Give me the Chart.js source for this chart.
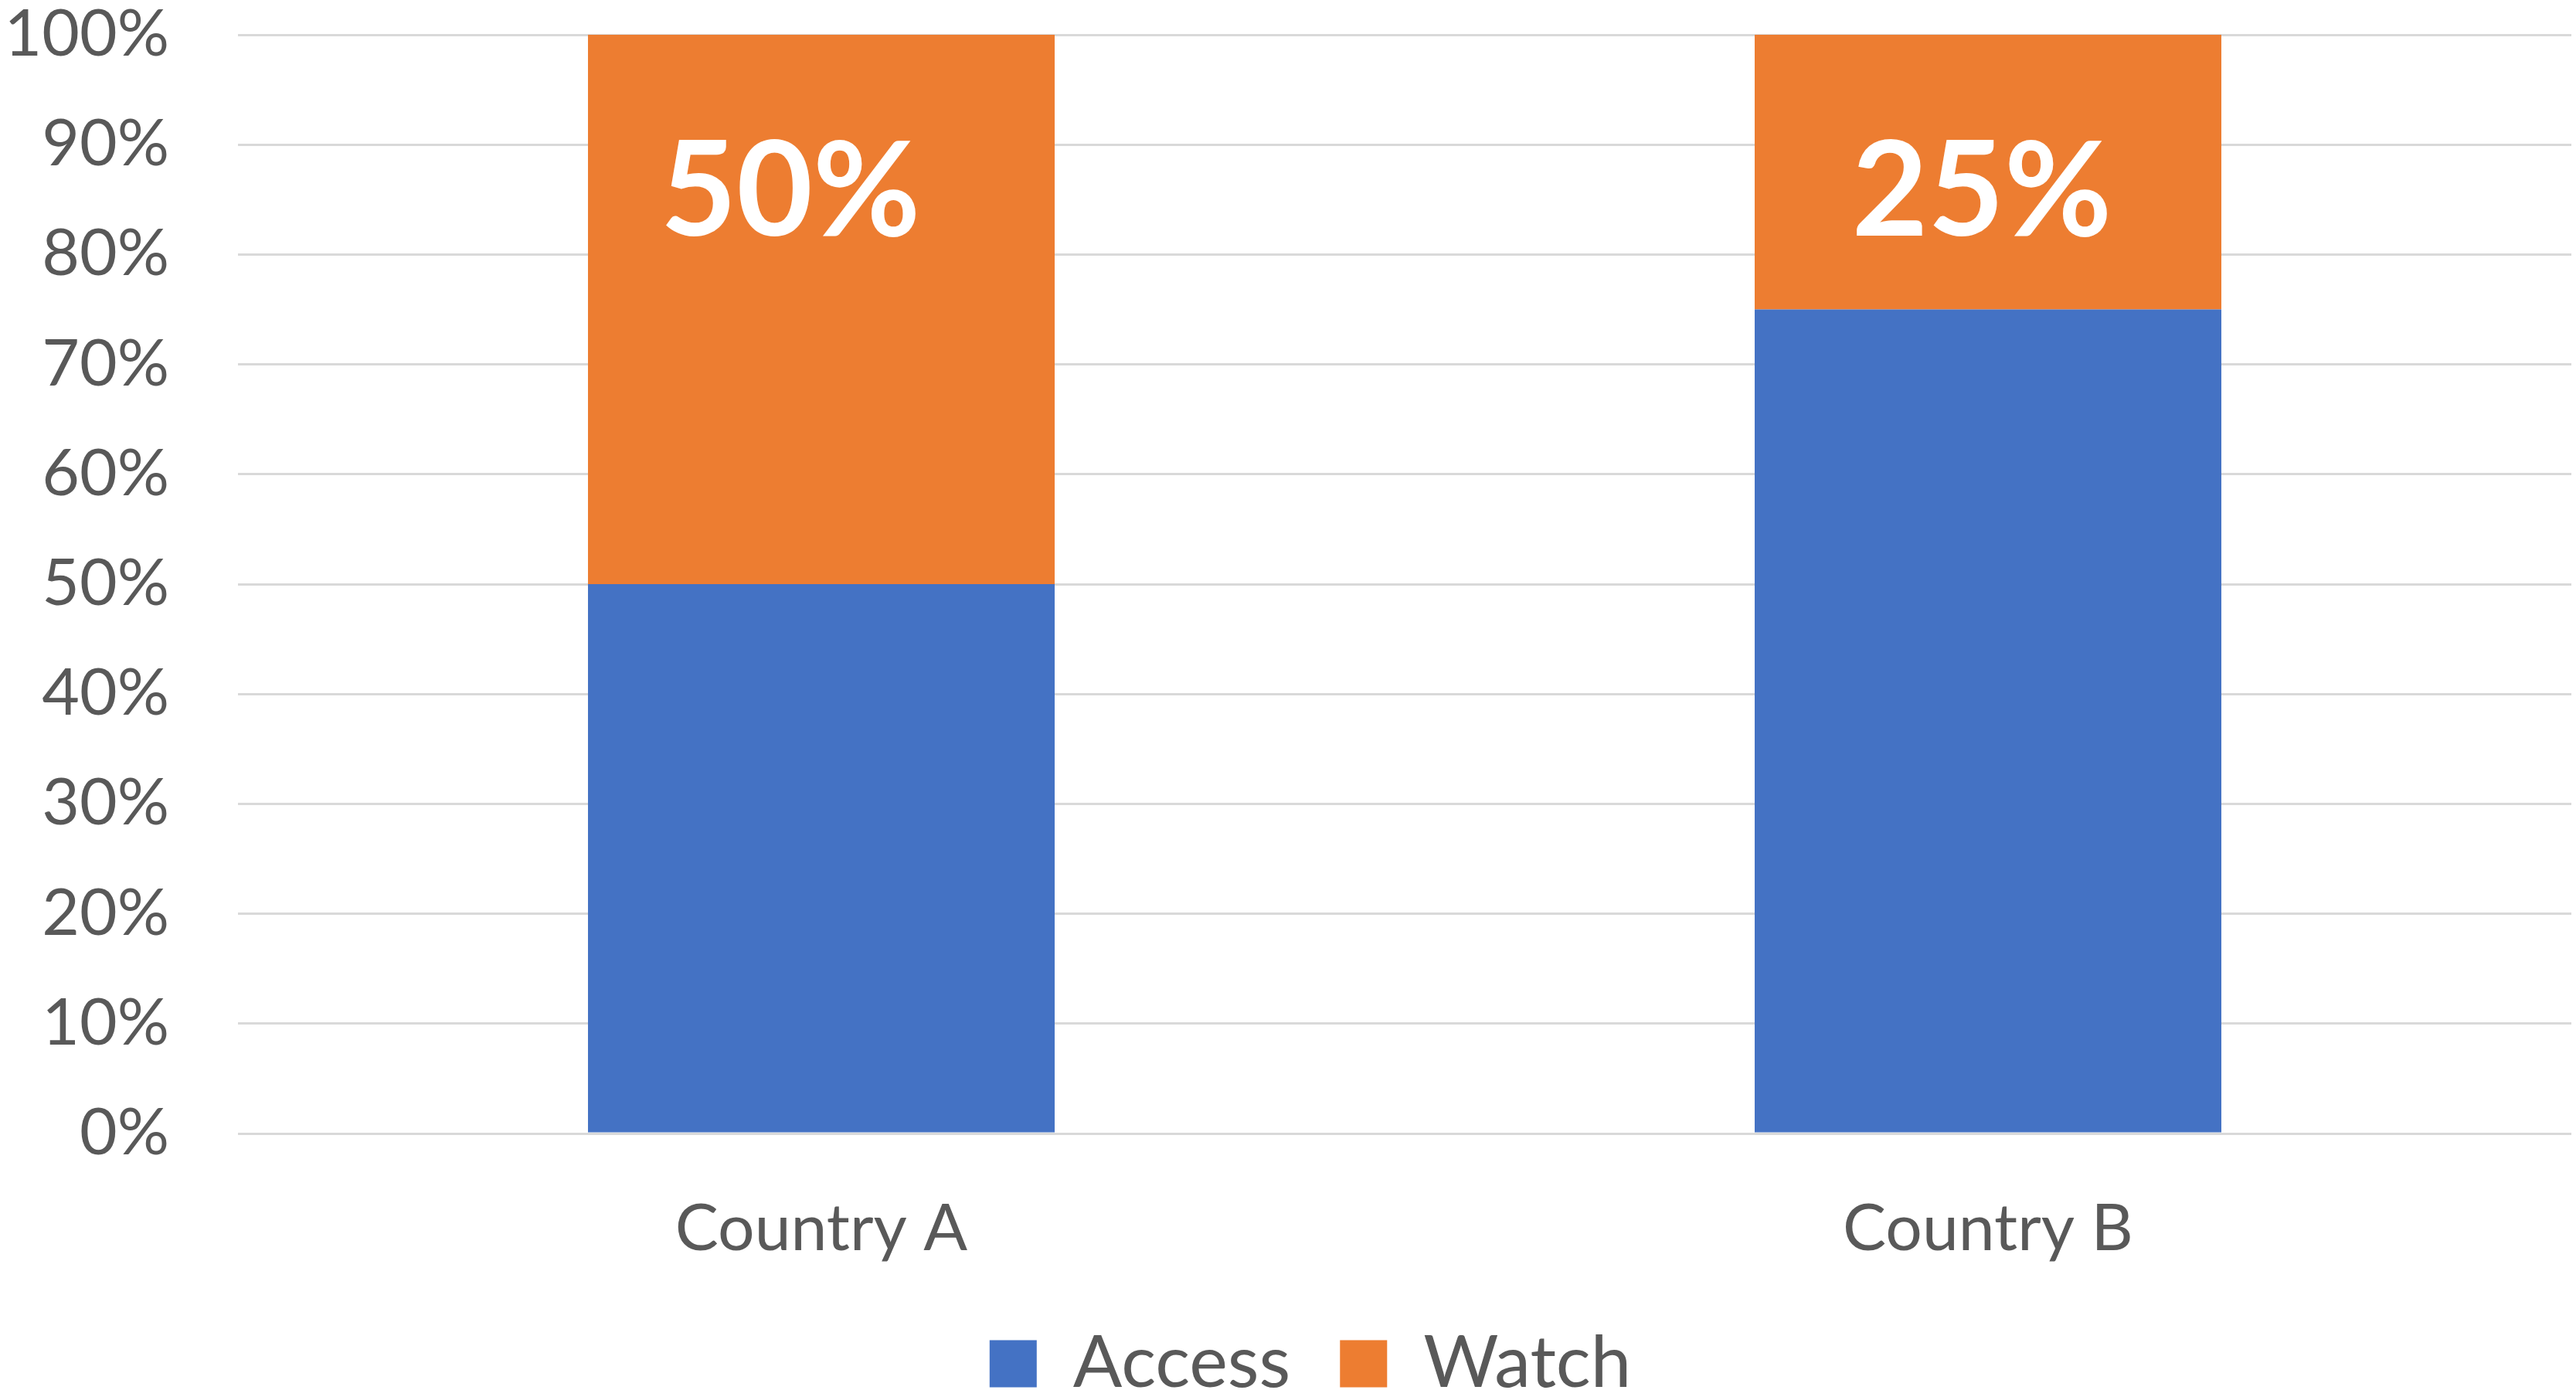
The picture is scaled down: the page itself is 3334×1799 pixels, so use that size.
<!DOCTYPE html>
<html>
<head>
<meta charset="utf-8">
<script src="https://cdn.jsdelivr.net/npm/chart.js"></script>
<style>
  html, body { margin: 0; padding: 0; background: #fff; }
  #wrap { width: 3334px; height: 1799px; }
</style>
</head>
<body>
<div id="wrap"><canvas id="myChart" width="3334" height="1799"></canvas></div>
<script>
// chart data
const categories = ["Country A", "Country B"];
const accessValues = [50, 75];
const watchValues = [50, 25];
const watchLabels = ["50%", "25%"];
const yTicks = [0, 10, 20, 30, 40, 50, 60, 70, 80, 90, 100];

const grey = "#595959";
const fontName = "Lato, 'Open Sans', sans-serif";

// white big percentage text in the orange part
const labelShift = [-40, -8];
const watchLabelPlugin = {
  id: "watchLabels",
  afterDatasetsDraw(chart) {
    const ctx = chart.ctx;
    const meta = chart.getDatasetMeta(1);
    const yPos = chart.scales.y.getPixelForValue(85.6);
    ctx.save();
    ctx.fillStyle = "#ffffff";
    ctx.font = "bold 170px " + fontName;
    ctx.textAlign = "center";
    ctx.textBaseline = "middle";
    meta.data.forEach((bar, i) => {
      ctx.fillText(watchLabels[i], bar.x + labelShift[i], yPos);
    });
    ctx.restore();
  },
};

// legend sits a bit right of the canvas centre
const legendShift = {
  id: "legendShift",
  afterLayout(chart) {
    chart.legend.left += 32;
    chart.legend.right += 32;
  },
};

const ctx = document.getElementById("myChart");

new Chart(ctx, {
  type: "bar",
  data: {
    labels: categories,
    datasets: [
      {
        label: "Access",
        data: accessValues,
        backgroundColor: "#4472C4",
        barPercentage: 0.4,
        categoryPercentage: 1,
      },
      {
        label: "Watch",
        data: watchValues,
        backgroundColor: "#ED7D31",
        barPercentage: 0.4,
        categoryPercentage: 1,
      },
    ],
  },
  options: {
    responsive: false,
    animation: false,
    events: [],
    layout: { padding: { top: 45, right: 6, left: 0, bottom: -23 } },
    plugins: {
      tooltip: { enabled: false },
      legend: {
        position: "bottom",
        labels: {
          color: grey,
          font: { family: fontName, size: 94 },
          boxWidth: 61,
          boxHeight: 61,
          padding: 64,
        },
      },
    },
    scales: {
      x: {
        stacked: true,
        grid: { display: false },
        border: { display: false },
        ticks: {
          color: grey,
          font: { family: fontName, size: 84 },
          padding: 66,
        },
        afterFit(scale) {
          scale.height = 187;
        },
      },
      y: {
        stacked: true,
        min: 0,
        max: 100,
        afterBuildTicks(scale) {
          scale.ticks = yTicks.map((v) => ({ value: v }));
        },
        grid: { color: "#d9d9d9", lineWidth: 3, drawTicks: false },
        border: { display: false },
        ticks: {
          color: grey,
          font: { family: fontName, size: 84, lineHeight: 1 },
          padding: 89,
          callback: (v) => v + "%",
        },
        afterFit(scale) {
          scale.width = 308;
          scale.paddingTop = 0;
          scale.paddingBottom = 0;
        },
      },
    },
  },
  plugins: [watchLabelPlugin, legendShift],
});
</script>
</body>
</html>
